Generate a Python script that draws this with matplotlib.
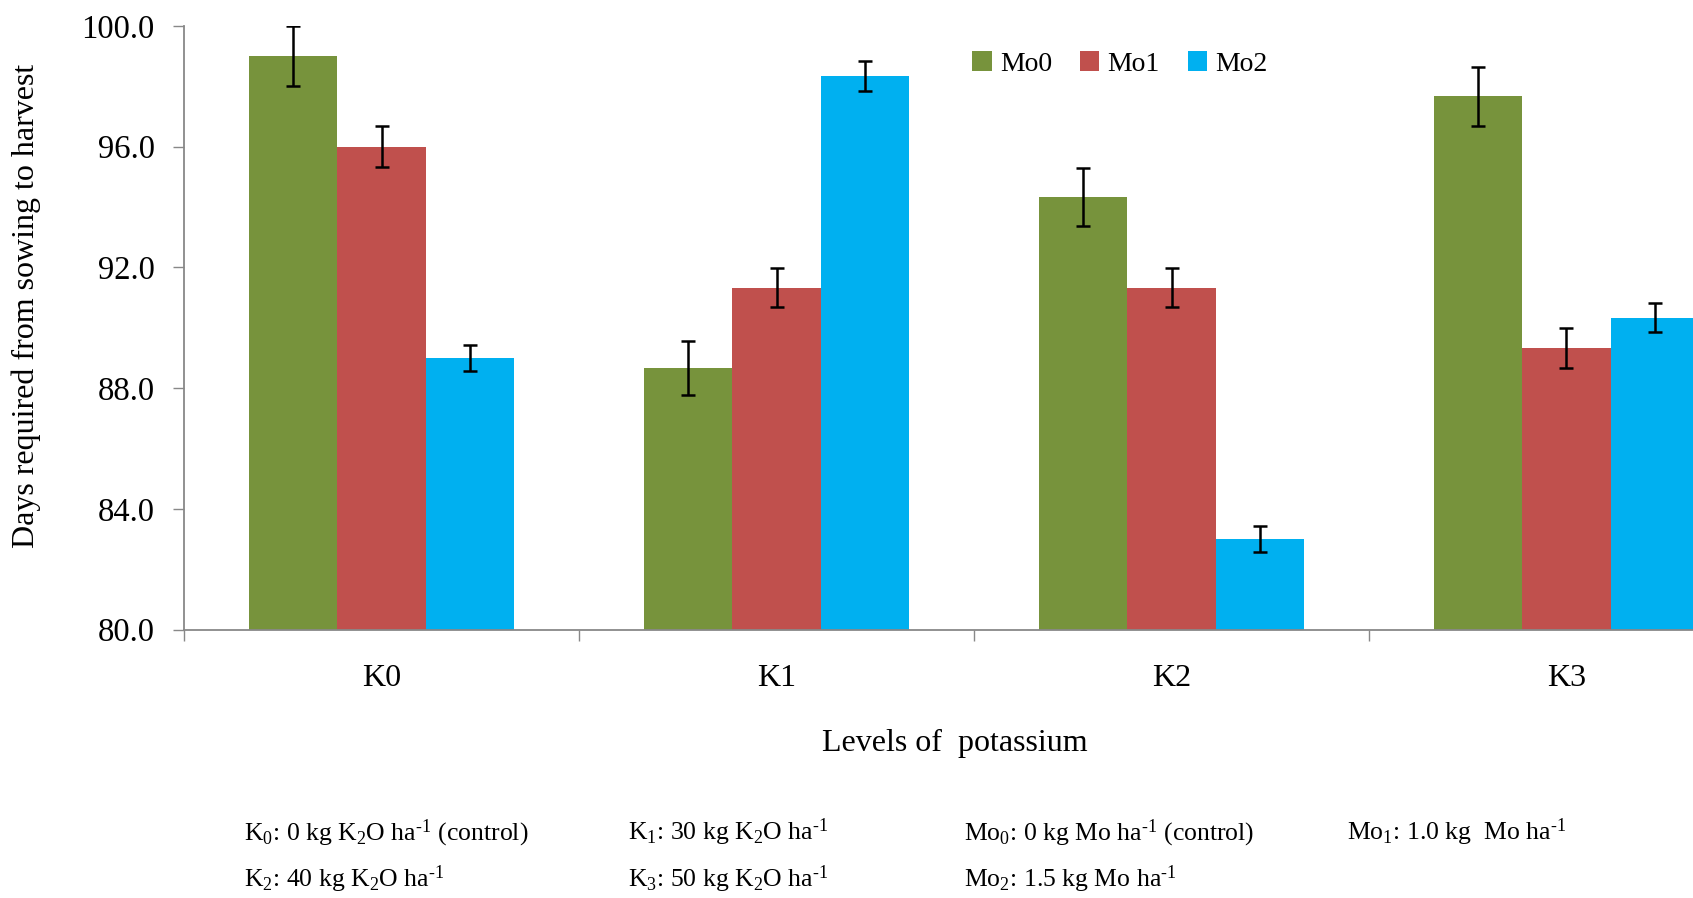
import matplotlib
matplotlib.use("Agg")
import matplotlib.pyplot as plt
import numpy as np

# Days from sowing to harvest for each potassium level and molybdenum rate
levels = ["K0", "K1", "K2", "K3"]
series = ["Mo0", "Mo1", "Mo2"]
mo0 = [99.0, 88.67, 94.33, 97.67]
mo1 = [96.0, 91.33, 91.33, 89.33]
mo2 = [89.0, 98.33, 83.0, 90.33]
err_mo0 = [1.0, 0.9, 0.97, 0.98]
err_mo1 = [0.67, 0.65, 0.65, 0.65]
err_mo2 = [0.43, 0.5, 0.43, 0.48]
colors = ["#77933C", "#C0504D", "#00B0F0"]
y_ticks = [80.0, 84.0, 88.0, 92.0, 96.0, 100.0]

# superscript "-1" drawn with a hyphen rather than a minus sign
SUP = "$^{\\mathregular{\u20101}}$"
notes_row1 = [r"K$_0$: 0 kg K$_2$O ha" + SUP + " (control)",
              r"K$_1$: 30 kg K$_2$O ha" + SUP,
              r"Mo$_0$: 0 kg Mo ha" + SUP + " (control)",
              r"Mo$_1$: 1.0 kg  Mo ha" + SUP]
notes_row2 = [r"K$_2$: 40 kg K$_2$O ha" + SUP,
              r"K$_3$: 50 kg K$_2$O ha" + SUP,
              r"Mo$_2$: 1.5 kg Mo ha" + SUP]

plt.rcParams["font.family"] = ["Liberation Serif", "DejaVu Serif"]
plt.rcParams["mathtext.fontset"] = "custom"
plt.rcParams["mathtext.rm"] = "Liberation Serif"
plt.rcParams["mathtext.it"] = "Liberation Serif"

W, H = 1693, 898
fig = plt.figure(figsize=(W / 100, H / 100), dpi=100)
# plot area runs past the right edge of the figure
x0, x1, ytop, ybot = 184, 1764, 26, 629.5
ax = fig.add_axes([x0 / W, 1 - ybot / H, (x1 - x0) / W, (ybot - ytop) / H])

x = np.arange(len(levels))
width = 0.223
for i, (vals, errs, name) in enumerate(zip([mo0, mo1, mo2], [err_mo0, err_mo1, err_mo2], series)):
    pos = x + (i - 1) * width
    ax.bar(pos, np.array(vals) - 80.0, width=width, bottom=80.0, color=colors[i],
           label=name, zorder=2)
    ax.errorbar(pos, vals, yerr=errs, fmt="none", ecolor="black", elinewidth=1.8,
                capsize=5, capthick=1.8, zorder=3)

ax.set_xlim(-0.5, len(levels) - 0.5)
ax.set_ylim(80, 100)
ax.set_yticks(y_ticks)
ax.set_yticklabels([f"{t:.1f}" for t in y_ticks], fontsize=23.5)
ax.set_xticks(x)
ax.set_xticklabels(levels, fontsize=23)
ax.tick_params(axis="x", length=0, pad=25)
ax.set_xticks(np.arange(len(levels) + 1) - 0.5, minor=True)
ax.tick_params(axis="x", which="minor", length=8, width=1, color="#888888", direction="out")
ax.tick_params(axis="y", length=8, width=1, color="#888888", direction="out", pad=13)

for side in ["top", "right"]:
    ax.spines[side].set_visible(False)
for side in ["left", "bottom"]:
    ax.spines[side].set_color("#888888")
    ax.spines[side].set_linewidth(1.3)

fig.text(26 / W, 1 - 306 / H, "Days required from sowing to harvest", fontsize=23,
         rotation=90, ha="center", va="center")
fig.text(955 / W, 1 - 743 / H, "Levels of  potassium", fontsize=23, ha="center", va="center")

fig.legend(loc="center", bbox_to_anchor=(1120 / W, 1 - 64 / H), ncol=3, frameon=False,
           fontsize=20, handlelength=0.7, handleheight=0.7, handletextpad=0.3,
           columnspacing=1.0)

row1_x = [244, 628, 964, 1347]
row2_x = [244, 628, 964]
for xs, txt in zip(row1_x, notes_row1):
    fig.text(xs / W, 1 - 840 / H, txt, fontsize=18.5, ha="left", va="baseline")
for xs, txt in zip(row2_x, notes_row2):
    fig.text(xs / W, 1 - 887 / H, txt, fontsize=18.5, ha="left", va="baseline")

fig.savefig("out.png", dpi=100)
